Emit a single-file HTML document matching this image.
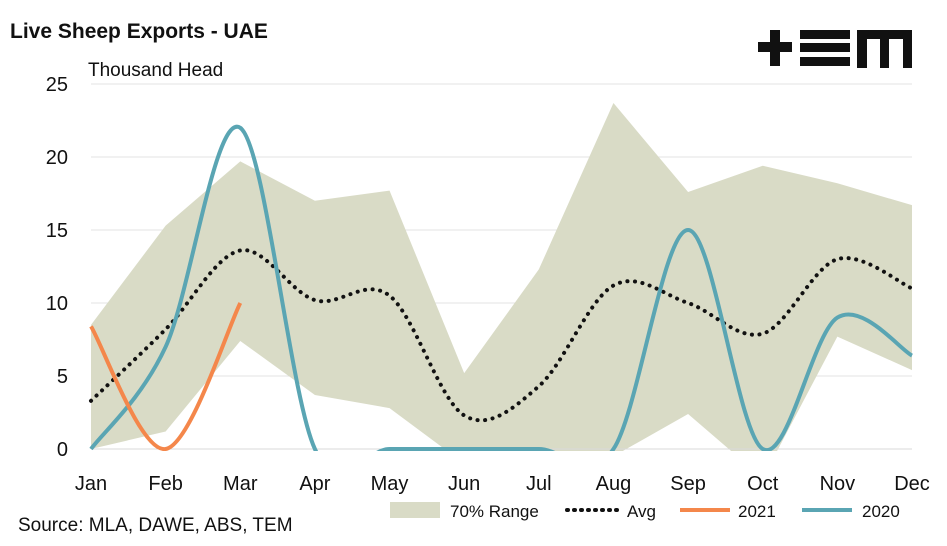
<!DOCTYPE html>
<html><head><meta charset="utf-8"><style>
body{margin:0;background:#fff;width:947px;height:541px;overflow:hidden;font-family:"Liberation Sans",sans-serif}
svg text{font-family:"Liberation Sans",sans-serif;fill:#111}
</style></head><body>
<svg id="chart" width="947" height="541">
<text x="10" y="38" font-size="21" font-weight="bold">Live Sheep Exports - UAE</text>
<text x="88" y="76" font-size="19">Thousand Head</text>
<g fill="#111">
<rect x="758" y="42" width="34" height="10"/><rect x="770" y="30" width="10" height="36"/>
<rect x="800" y="30" width="50" height="9"/><rect x="800" y="43" width="50" height="9"/><rect x="800" y="57" width="50" height="9"/>
<rect x="857" y="30" width="55" height="9"/><rect x="857" y="30" width="10" height="38"/><rect x="880" y="30" width="9" height="38"/><rect x="903" y="30" width="9" height="38"/>
</g>
<g id="grid"></g><g id="plot"></g><g id="axes"></g>
<text x="18" y="531" font-size="19">Source: MLA, DAWE, ABS, TEM</text>
<g>
<rect x="390" y="502" width="50" height="16" fill="#d9dbc6"/>
<text x="450" y="517" font-size="17">70% Range</text>
<line x1="567" y1="510" x2="620" y2="510" stroke="#111" stroke-width="4" stroke-dasharray="1,6" stroke-linecap="round"/>
<text x="627" y="517" font-size="17">Avg</text>
<line x1="680" y1="510" x2="730" y2="510" stroke="#f4874b" stroke-width="4"/>
<text x="738" y="517" font-size="17">2021</text>
<line x1="802" y1="510" x2="852" y2="510" stroke="#5aa5b3" stroke-width="4"/>
<text x="862" y="517" font-size="17">2020</text>
</g>
</svg>
<script>
const months=["Jan","Feb","Mar","Apr","May","Jun","Jul","Aug","Sep","Oct","Nov","Dec"];
const yTicks=[0,5,10,15,20,25];
const rangeHigh=[8.5,15.3,19.7,17.0,17.7,5.2,12.3,23.7,17.6,19.4,18.2,16.7];
const rangeLow=[0,1.2,7.4,3.7,2.8,-1,-2,-0.5,2.4,-2,7.7,5.4];
const avg=[3.3,8.2,13.6,10.2,10.5,2.3,4.3,11.2,10.0,7.9,13.0,11.0];
const s2021=[8.4,0,10];
const s2020=[0,7,22,0,0,0,0,0,15,0,9,6.4];
const NS="http://www.w3.org/2000/svg";
const x=i=>91+i*(912-91)/11;
const y=v=>449-v*(449-84)/25;
function mk(t,a,p){const e=document.createElementNS(NS,t);for(const k in a)e.setAttribute(k,a[k]);p.appendChild(e);return e;}
const grid=document.getElementById('grid'),plot=document.getElementById('plot'),axes=document.getElementById('axes');
const defs=mk('defs',{},plot);const cp=mk('clipPath',{id:'clip'},defs);mk('rect',{x:0,y:0,width:947,height:y(0)+2},cp);
yTicks.forEach(t=>{
 if(t>0){const l=mk('line',{x1:91,x2:912,y1:y(t),y2:y(t),stroke:'#e3e3e3','stroke-width':1},grid);
 
 }
 const tx=mk('text',{x:68,y:y(t)+7,'font-size':20,'text-anchor':'end'},axes);tx.textContent=t;
 
 
});
months.forEach((m,i)=>{const tx=mk('text',{x:x(i),y:490,'font-size':20,'text-anchor':'middle'},axes);tx.textContent=m;
 
 });
// band
let pts=rangeHigh.map((v,i)=>x(i)+','+y(v));
for(let i=rangeLow.length-1;i>=0;i--)pts.push(x(i)+','+y(rangeLow[i]));
const band=mk('polygon',{points:pts.join(' '),fill:'#d9dbc6','clip-path':'url(#clip)'},plot);


mk('line',{x1:91,x2:912,y1:y(0),y2:y(0),stroke:'#d9d9d9','stroke-width':1},plot);
function smooth(vals){const P=vals.map((v,i)=>[x(i),y(v)]);let d='M'+P[0];
 for(let i=0;i<P.length-1;i++){const p0=P[i-1]||P[i],p1=P[i],p2=P[i+1],p3=P[i+2]||p2;
 const c1=[p1[0]+(p2[0]-p0[0])/6,p1[1]+(p2[1]-p0[1])/6],c2=[p2[0]-(p3[0]-p1[0])/6,p2[1]-(p3[1]-p1[1])/6];
 d+=' C'+c1+' '+c2+' '+p2;}return d;}
const a=mk('path',{d:smooth(avg),fill:'none',stroke:'#111','stroke-width':4,'stroke-dasharray':'0.1,7.5','stroke-linecap':'round'},plot);


const l20=mk('path',{d:smooth(s2020),fill:'none',stroke:'#5aa5b3','stroke-width':4,'clip-path':'url(#clip)'},plot);


const l21=mk('path',{d:smooth(s2021),fill:'none',stroke:'#f4874b','stroke-width':4,'clip-path':'url(#clip)'},plot);


</script>
</body></html>
